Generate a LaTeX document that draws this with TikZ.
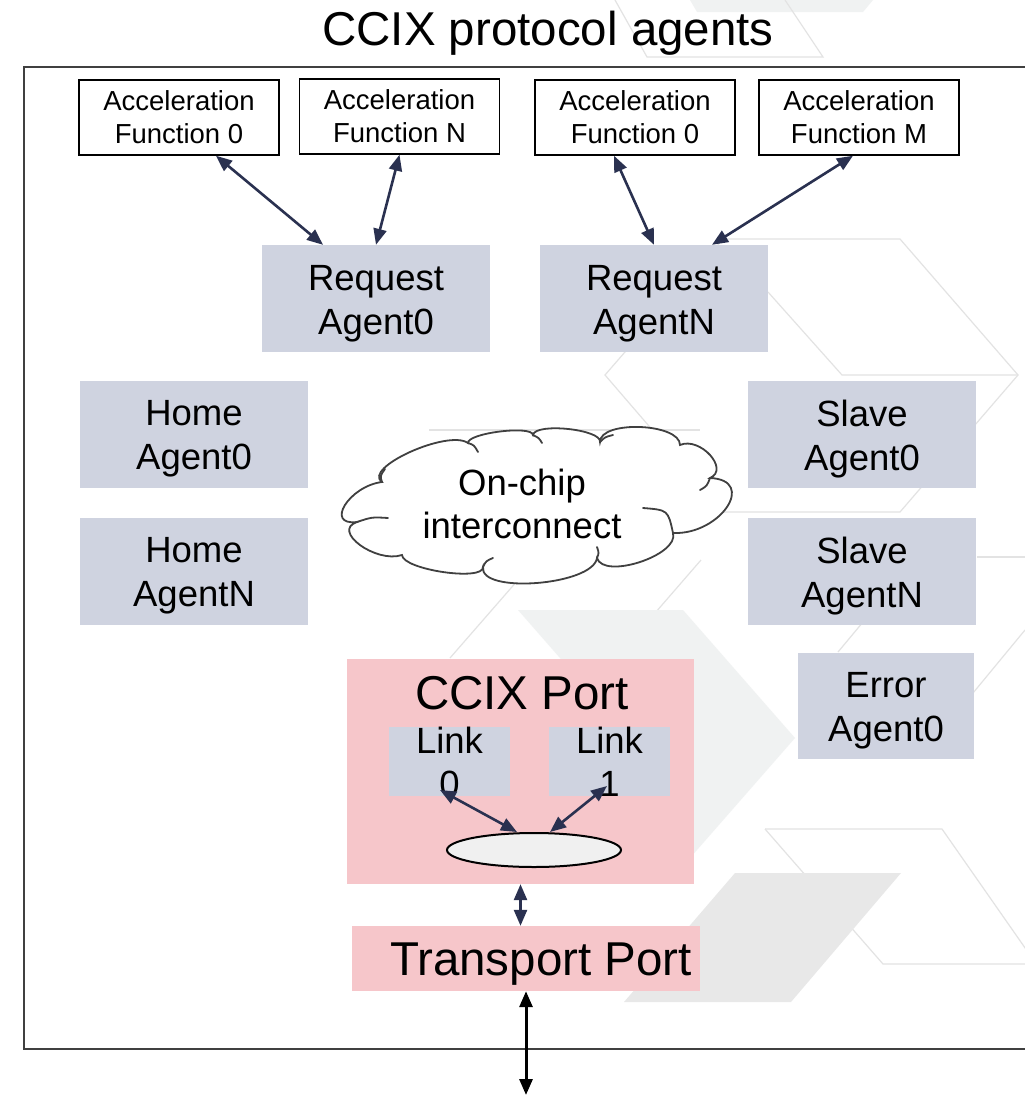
\documentclass[tikz,border=0pt]{standalone}
\usepackage{fontspec}
\setmainfont{Liberation Sans}
\usetikzlibrary{arrows.meta,shapes.geometric,calc}

\definecolor{agentfill}{HTML}{CFD3E0}
\definecolor{portfill}{HTML}{F6C6CA}
\definecolor{arrowcol}{HTML}{2A3150}
\definecolor{framecol}{HTML}{404040}
\definecolor{wmline}{HTML}{E3E3E3}
\definecolor{wmlight}{HTML}{F0F2F2}
\definecolor{wmdark}{HTML}{E8E8E8}
\definecolor{ellfill}{HTML}{F0F0F0}

\tikzset{
  accbox/.style={draw=black, line width=1.5pt, fill=white, minimum width=200,
    minimum height=75, inner sep=0pt, align=center,
    font=\fontsize{27.5}{33}\selectfont},
  agentbox/.style={fill=agentfill, minimum width=228, minimum height=107, inner sep=0pt},
  agenttext/.style={align=center, inner sep=0pt, font=\fontsize{36.5}{44}\selectfont},
  portbox/.style={fill=portfill, inner sep=0pt},
  biglabel/.style={font=\fontsize{47.5}{56}\selectfont, inner sep=0pt},
  midlabel/.style={font=\fontsize{36.5}{43}\selectfont, align=center, inner sep=0pt},
  wmstroke/.style={draw=wmline, line width=1.2pt},
  puffline/.style={draw=framecol, line width=1.8pt, line cap=round},
  biarrow/.style={draw=arrowcol, line width=2.6pt,
    {Triangle[length=16pt,width=13pt]}-{Triangle[length=16pt,width=13pt]}},
  extarrow/.style={draw=black, line width=3pt,
    {Triangle[length=16pt,width=13pt]}-{Triangle[length=16pt,width=13pt]}}
}

% a filled agent box with its two-line caption
\newcommand{\placeagent}[4][]{%
  \node[agentbox,#1] (#2) at #3 {};
  \node[agenttext] (#2txt) at ([yshift=-5pt]#2.center) {#4};}

\begin{document}
\begin{tikzpicture}[x=1pt, y=-1pt]
\useasboundingbox (0,0) rectangle (1025,1095);
\fill[white] (0,0) rectangle (1025,1095);

% faint background ornament
\fill[wmlight] (690,0) -- (873,0) -- (863,12) -- (697,12) -- cycle;
\draw[wmstroke] (615,0) -- (647,57) -- (823,57) -- (785,0);
\draw[wmstroke] (723,239) -- (900,239) -- (1018,375) -- (900,512) -- (723,512) -- (605,375) -- cycle;
\draw[wmstroke] (768,292) -- (842,375) -- (1018,375);
\draw[wmstroke] (429,430) -- (700,430);
\draw[wmstroke] (518,580) -- (450,658);
\draw[wmstroke] (616,658) -- (701,560);
\draw[wmstroke] (977,557) -- (1025,557);
\draw[wmstroke] (838,652) -- (873,610);
\draw[wmstroke] (973,693) -- (1025,630);
\fill[wmlight] (518,610) -- (683,610) -- (795,738) -- (683,866) -- (518,866) -- (630,738) -- cycle;
\draw[wmstroke] (765,829) -- (942,829) -- (1030,955);
\draw[wmstroke] (765,829) -- (883,964) -- (1030,964);
\fill[wmdark] (735,873) -- (901,873) -- (791,1002) -- (624,1002) -- cycle;

% title and enclosing frame
\node[biglabel, anchor=base] (title) at (548,45) {CCIX protocol agents};
\draw[framecol, line width=2.5pt] (24,67) rectangle (1045,1049);

% acceleration functions
\node[accbox] (af0)  at (179,117.5) {Acceleration\\Function 0};
\node[accbox] (afN)  at (399.5,116.5) {Acceleration\\Function N};
\node[accbox] (af0b) at (635,117.5) {Acceleration\\Function 0};
\node[accbox] (afM)  at (859,117.5) {Acceleration\\Function M};

% protocol agents
\placeagent{ra0}{(376,298.5)}{Request\\Agent0}
\placeagent{raN}{(654,298.5)}{Request\\AgentN}
\placeagent{ha0}{(194,434)}{Home\\Agent0}
\placeagent{haN}{(194,571)}{Home\\AgentN}
\placeagent{sa0}{(862,434)}{Slave\\Agent0}
\placeagent{saN}{(862,571)}{Slave\\AgentN}
\placeagent[minimum width=176, minimum height=106]{ea0}{(886,706)}{Error\\Agent0}

% on-chip interconnect: hand-drawn cloud outline
\filldraw[puffline, fill=white]
  (382,482) .. controls (349.3,486) and (324.3,526) .. (357,522)
            .. controls (331,530.7) and (376,563.7) .. (402,555)
            .. controls (402.7,569.7) and (483.7,581.7) .. (483,567)
            .. controls (479,594.3) and (593,585.3) .. (597,558)
            .. controls (603.7,580) and (679.7,555) .. (673,533)
            .. controls (720.3,535) and (757.3,480) .. (710,478)
            .. controls (730,469.3) and (700,436.3) .. (680,445)
            .. controls (680,423) and (600,420) .. (600,442)
            .. controls (602,429.3) and (535,422.3) .. (533,435)
            .. controls (532.3,425) and (467.3,433) .. (468,443)
            .. controls (448,429) and (362,468) .. (382,482) -- cycle;
% inner strokes where the puffs meet
\draw[puffline] (382,482) .. controls (380,476) .. (385,469);
\draw[puffline] (357,522) .. controls (372,517) .. (388,518);
\draw[puffline] (468,443) .. controls (474,445) .. (478,452);
\draw[puffline] (533,435) .. controls (539,438) .. (542,443);
\draw[puffline] (600,442) .. controls (605,437) .. (613,435);
\draw[puffline] (710,478) .. controls (707,486) .. (700,490);
\draw[puffline] (643,508) .. controls (668,510) .. (673,533);
\draw[puffline] (483,567) .. controls (486,561) .. (493,558);
\draw[puffline] (597,558) .. controls (599,553) .. (597,547);
\node[midlabel] (noc) at (522,504) {On-chip\\interconnect};

% CCIX port with its links
\node[portbox, minimum width=347, minimum height=225] (ccix) at (520.5,771.5) {};
\node[biglabel, anchor=base] (ccixlbl) at (522,709) {CCIX Port};
\node[fill=agentfill, minimum width=121, minimum height=69, inner sep=0pt] (link0) at (449.5,761.5) {};
\node[fill=agentfill, minimum width=121, minimum height=69, inner sep=0pt] (link1) at (609.5,761.5) {};
\node[midlabel] (link0lbl) at (link0) {Link\\0};
\node[midlabel] (link1lbl) at (link1) {Link\\1};
\node[ellipse, draw=black, fill=ellfill, line width=2pt, minimum width=174,
      minimum height=34, inner sep=0pt] (ell) at (534,850) {};

% transport port
\node[portbox, minimum width=348, minimum height=65] (tp) at (526,958.5) {};
\node[biglabel, anchor=base] (tplbl) at (541,975) {Transport Port};
\coordinate (ext) at (526,1095);

% connectors
\draw[biarrow] ([xshift=37pt]af0.south) -- ([xshift=-53pt]ra0.north);
\draw[biarrow] (afN.south) -- (ra0.north);
\draw[biarrow] ([xshift=-21pt]af0b.south) -- (raN.north);
\draw[biarrow] ([xshift=-6pt]afM.south) -- ([xshift=58pt]raN.north);
\draw[biarrow] ($(link0)+(-9.5,28.5)$) -- ([xshift=-17pt]ell.north);
\draw[biarrow] ($(link1)+(-2.5,24.5)$) -- ([xshift=16pt]ell.north);
\draw[biarrow] (ccix.south) -- (ccix.south |- tp.north);
\draw[extarrow] (tp.south) -- (ext);
\end{tikzpicture}
\end{document}
